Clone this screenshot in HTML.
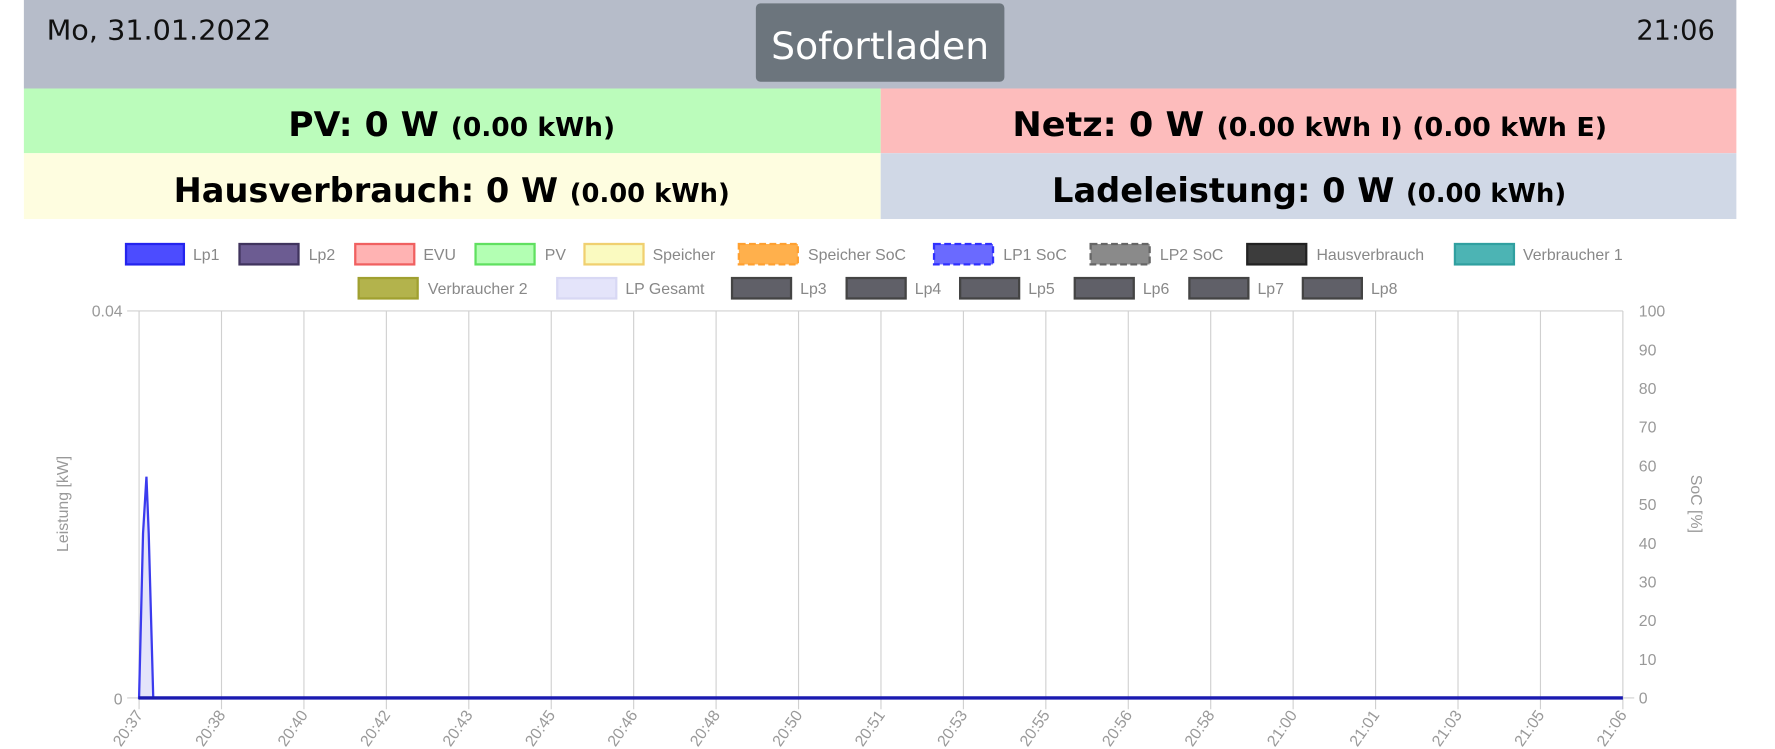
<!DOCTYPE html>
<html><head><meta charset="utf-8"><style>
html,body{margin:0;padding:0;background:#fff;width:1775px;height:749px;overflow:hidden}
svg{display:block}
.lg{font-family:"Liberation Sans",sans-serif;font-size:14px;fill:#888}
.tk{font-family:"Liberation Sans",sans-serif;font-size:14px;fill:#999}
.hb{font-family:"DejaVu Sans",sans-serif;font-weight:bold;fill:#000}
</style></head><body>
<svg width="1775" height="749" viewBox="0 0 1564 660" xmlns="http://www.w3.org/2000/svg">
<rect x="21" y="0" width="1509" height="78" fill="#b6bcc9"/>
<text x="41" y="35" font-family="DejaVu Sans,sans-serif" font-size="24" fill="#111" textLength="198" lengthAdjust="spacingAndGlyphs">Mo, 31.01.2022</text>
<text x="1511" y="35" text-anchor="end" font-family="DejaVu Sans,sans-serif" font-size="24" fill="#111">21:06</text>
<rect x="666" y="3" width="219" height="69" rx="4" fill="#6c757d"/>
<text x="775.5" y="52" text-anchor="middle" font-family="DejaVu Sans,sans-serif" font-size="33" fill="#fff" textLength="192" lengthAdjust="spacingAndGlyphs">Sofortladen</text>
<rect x="21" y="78" width="755" height="57" fill="#bbfcbb"/>
<rect x="776" y="78" width="754" height="57" fill="#fdbcbc"/>
<rect x="21" y="135" width="755" height="58" fill="#fefde0"/>
<rect x="776" y="135" width="754" height="58" fill="#d0d8e6"/>
<text class="hb" x="254" y="120" font-size="30" textLength="288" lengthAdjust="spacingAndGlyphs">PV: 0 W <tspan font-size="23">(0.00 kWh)</tspan></text>
<text class="hb" x="892" y="120" font-size="30" textLength="524" lengthAdjust="spacingAndGlyphs">Netz: 0 W <tspan font-size="23">(0.00 kWh I) (0.00 kWh E)</tspan></text>
<text class="hb" x="153" y="178" font-size="30" textLength="490" lengthAdjust="spacingAndGlyphs">Hausverbrauch: 0 W <tspan font-size="23">(0.00 kWh)</tspan></text>
<text class="hb" x="927" y="178" font-size="30" textLength="453" lengthAdjust="spacingAndGlyphs">Ladeleistung: 0 W <tspan font-size="23">(0.00 kWh)</tspan></text>

<g stroke-width="2">
<rect x="111" y="215" width="51" height="18" fill="#4c4cff" stroke="#2424ee"/>
<rect x="211" y="215" width="52" height="18" fill="#6c5c92" stroke="#40345e"/>
<rect x="313" y="215" width="52" height="18" fill="#ffb3b3" stroke="#f06060"/>
<rect x="419" y="215" width="52" height="18" fill="#b3ffb3" stroke="#60e060"/>
<rect x="515" y="215" width="52" height="18" fill="#fafac0" stroke="#f0d070"/>
<rect x="651" y="215" width="52" height="18" fill="#ffb04c" stroke="#ffa030" stroke-dasharray="6 3"/>
<rect x="823" y="215" width="52" height="18" fill="#6a6aff" stroke="#3030ff" stroke-dasharray="6 3"/>
<rect x="961" y="215" width="52" height="18" fill="#8a8a8a" stroke="#666" stroke-dasharray="6 3"/>
<rect x="1099" y="215" width="52" height="18" fill="#3c3c3c" stroke="#222"/>
<rect x="1282" y="215" width="52" height="18" fill="#4cb4b4" stroke="#30a0a0"/>
<rect x="316" y="245" width="52" height="18" fill="#b3b34c" stroke="#a0a030"/>
<rect x="491" y="245" width="52" height="18" fill="#e4e4fa" stroke="#d8d8f4"/>
<rect x="645" y="245" width="52" height="18" fill="#606068" stroke="#444"/>
<rect x="746" y="245" width="52" height="18" fill="#606068" stroke="#444"/>
<rect x="846" y="245" width="52" height="18" fill="#606068" stroke="#444"/>
<rect x="947" y="245" width="52" height="18" fill="#606068" stroke="#444"/>
<rect x="1048" y="245" width="52" height="18" fill="#606068" stroke="#444"/>
<rect x="1148" y="245" width="52" height="18" fill="#606068" stroke="#444"/>
</g>
<g class="lg">
<text x="170" y="229">Lp1</text><text x="272" y="229">Lp2</text><text x="373" y="229">EVU</text>
<text x="480" y="229">PV</text><text x="575" y="229">Speicher</text><text x="712" y="229">Speicher SoC</text>
<text x="884" y="229">LP1 SoC</text><text x="1022" y="229">LP2 SoC</text><text x="1160" y="229">Hausverbrauch</text>
<text x="1342" y="229">Verbraucher 1</text>
<text x="377" y="259">Verbraucher 2</text><text x="551" y="259">LP Gesamt</text>
<text x="705" y="259">Lp3</text><text x="806" y="259">Lp4</text><text x="906" y="259">Lp5</text>
<text x="1007" y="259">Lp6</text><text x="1108" y="259">Lp7</text><text x="1208" y="259">Lp8</text>
</g>

<g stroke="#d0d0d0" stroke-width="1">
<line x1="112" y1="274" x2="1430" y2="274"/>
<line x1="112" y1="615" x2="122" y2="615"/>
<line x1="1430" y1="615" x2="1440" y2="615"/>
</g>
<g id="grid" stroke="#d0d0d0" stroke-width="1"></g>
<g class="tk">
<text x="108" y="279" text-anchor="end">0.04</text>
<text x="108" y="621" text-anchor="end">0</text>
</g>
<g id="rt" class="tk"></g>
<g id="xl" class="tk"></g>
<text class="tk" transform="translate(60,444) rotate(-90)" text-anchor="middle">Leistung [kW]</text>
<text class="tk" transform="translate(1490,444) rotate(90)" text-anchor="middle">SoC [%]</text>

<path d="M122.5 615 L126 470 L129 420 L131 470 L135 615 Z" fill="#e4e4fa" stroke="#3b3bee" stroke-width="2"/>
<line x1="122" y1="615" x2="1430" y2="615" stroke="#1a1ab0" stroke-width="3"/>
<script>
var ns="http://www.w3.org/2000/svg",g=document.getElementById("grid"),xl=document.getElementById("xl"),rt=document.getElementById("rt");
var labs=["20:37","20:38","20:40","20:42","20:43","20:45","20:46","20:48","20:50","20:51","20:53","20:55","20:56","20:58","21:00","21:01","21:03","21:05","21:06"];
for(var i=0;i<19;i++){var x=122.5+i*(1430-122.5)/18;
var l=document.createElementNS(ns,"line");l.setAttribute("x1",x);l.setAttribute("x2",x);l.setAttribute("y1",274);l.setAttribute("y2",625);g.appendChild(l);
var t=document.createElementNS(ns,"text");t.setAttribute("transform","translate("+(x+4)+",630) rotate(-55)");t.setAttribute("text-anchor","end");t.textContent=labs[i];xl.appendChild(t);}
for(var k=0;k<=10;k++){var y=615-k*34.1;var t=document.createElementNS(ns,"text");t.setAttribute("x",1444);t.setAttribute("y",y+5);t.textContent=k*10;rt.appendChild(t);}
</script>
</svg>
</body></html>
